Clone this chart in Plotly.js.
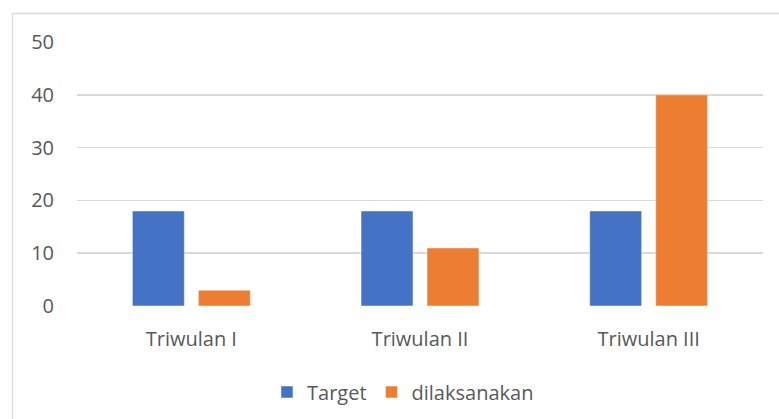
<!DOCTYPE html>
<html>
<head>
<meta charset="utf-8">
<script src="https://cdn.plot.ly/plotly-3.0.1.min.js"></script>
<style>html,body{margin:0;padding:0;background:#fff;}#chart{width:779px;height:419px;}</style>
</head>
<body>
<div id="chart"></div>
<script>
const categories = ["Triwulan I", "Triwulan II", "Triwulan III"];
const targetValues = [18, 18, 18];
const dilaksanakanValues = [3, 11, 40];
const yTicks = [0, 10, 20, 30, 40, 50];

const fontFam = "'Open Sans', Lato, sans-serif";
const textColor = "#595959";
const fs = 20;

const data = [
  {type: "bar", name: "Target", x: categories, y: targetValues,
   marker: {color: "#4472C4", line: {color: "#ffffff", width: 0.5}}},
  {type: "bar", name: "dilaksanakan", x: categories, y: dilaksanakanValues,
   marker: {color: "#ED7D31", line: {color: "#ffffff", width: 0.5}}}
];

const L = 77, R = 763, T = 42, B = 306, W = 779, H = 419;
const pw = R - L, ph = B - T;
const px = v => (v - L) / pw;
const py = v => (B - v) / ph;

const layout = {
  width: W, height: H,
  margin: {l: L, r: W - R, t: T, b: H - B, pad: 0},
  paper_bgcolor: "#ffffff", plot_bgcolor: "#ffffff",
  font: {family: fontFam, size: fs, color: textColor},
  barmode: "group", bargap: 0.423, bargroupgap: 0.212,
  showlegend: true,
  legend: {orientation: "h", xref: "container", yref: "container",
           x: 403 / W, y: 1 - 392 / H, xanchor: "center", yanchor: "middle",
           itemwidth: 30, font: {family: fontFam, size: fs, color: textColor}, traceorder: "normal"},
  xaxis: {type: "category", showgrid: false, zeroline: false, showline: false, ticks: "",
          automargin: false,
          ticklabelstandoff: 19, tickfont: {family: fontFam, size: fs, color: textColor}},
  yaxis: {range: [0, 50], tickvals: yTicks, ticktext: yTicks.map(String), showgrid: true,
          automargin: false,
          gridcolor: "#d9d9d9", gridwidth: 1.5, zeroline: false, showline: false, ticks: "",
          ticklabelstandoff: 22, tickfont: {family: fontFam, size: fs, color: textColor}},
  shapes: [
    {type: "line", xref: "paper", yref: "paper", x0: px(12.5), x1: px(12.5), y0: py(13.5), y1: py(430),
     line: {color: "#d9d9d9", width: 1.3}},
    {type: "line", xref: "paper", yref: "paper", x0: px(12.5), x1: px(790), y0: py(13.5), y1: py(13.5),
     line: {color: "#d9d9d9", width: 1.3}}
  ]
};

Plotly.newPlot("chart", data, layout, {displayModeBar: false, staticPlot: true});
</script>
</body>
</html>
